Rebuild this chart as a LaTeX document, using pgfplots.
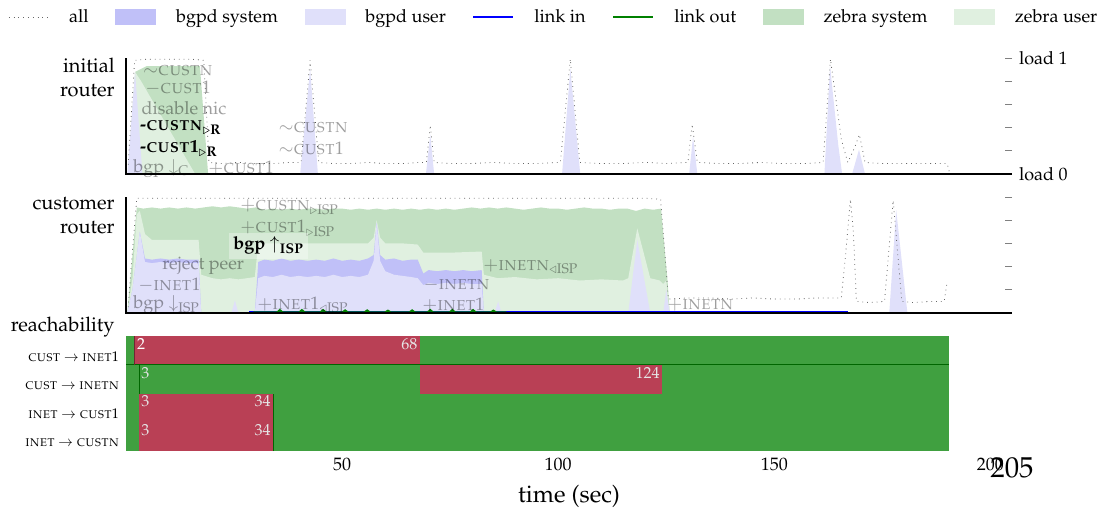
\documentclass[border=0pt]{standalone}
\usepackage[T1]{fontenc}
\usepackage{mathpazo}
\usepackage{amsmath}
\usepackage{pgfplots}
\pgfplotsset{compat=1.18}
\definecolor{bgpdsys}{RGB}{192,192,248}
\definecolor{bgpdusr}{RGB}{224,224,250}
\definecolor{zebsys}{RGB}{194,224,194}
\definecolor{zebusr}{RGB}{224,240,224}
\definecolor{reachred}{RGB}{185,64,85}
\definecolor{reachgreen}{RGB}{64,160,64}
\pgfplotsset{
 panel/.style={scale only axis, width=443pt, height=58pt, xmin=0, xmax=205, ymin=0, ymax=1,
   axis line style={draw=none}, xtick=\empty, ytick={0,0.2,0.4,0.6,0.8,1}, ytick pos=right,
   tick align=inside, major tick length=3.5pt, ytick style={black!50, thin}, clip=false,
   yticklabel style={font=\small},
   after end axis/.code={\draw[line width=1pt] (rel axis cs:0,1) -- (rel axis cs:0,0) -- (rel axis cs:1,0);}},
}
\tikzset{ann/.style={font=\small, text=black, text opacity=0.38, anchor=west, inner sep=0pt},
         bann/.style={font=\small, text=black, anchor=west, inner sep=0pt}}
\begin{document}
\begin{tikzpicture}
\path[use as bounding box] (0,0) rectangle (552pt,-257.5pt);
% ---------------- initial router ----------------
\begin{axis}[panel, at={(63pt,-87pt)}, anchor=south west,
  yticklabels={load 0,,,,,load 1},
  legend columns=7,
  legend style={at={(axis description cs:-0.1332,1.353)}, anchor=west, draw=none, fill=none,
    inner sep=0pt, font=\small, legend cell align=left,
    /tikz/every odd column/.append style={column sep=8pt},
    /tikz/every even column/.append style={column sep=11.3pt}}]
\addlegendimage{legend image code/.code={\draw[black!60,dotted] (0pt,0pt) -- (20pt,0pt);}}
\addlegendentry{all}
\addlegendimage{legend image code/.code={\fill[bgpdsys] (0pt,-3.75pt) rectangle (20pt,3.75pt);}}
\addlegendentry{bgpd system}
\addlegendimage{legend image code/.code={\fill[bgpdusr] (0pt,-3.75pt) rectangle (20pt,3.75pt);}}
\addlegendentry{bgpd user}
\addlegendimage{legend image code/.code={\draw[blue,line width=1pt] (0pt,0pt) -- (20pt,0pt);}}
\addlegendentry{link in}
\addlegendimage{legend image code/.code={\draw[green!50!black,line width=1pt] (0pt,0pt) -- (20pt,0pt);}}
\addlegendentry{link out}
\addlegendimage{legend image code/.code={\fill[zebsys] (0pt,-3.75pt) rectangle (20pt,3.75pt);}}
\addlegendentry{zebra system}
\addlegendimage{legend image code/.code={\fill[zebusr] (0pt,-3.75pt) rectangle (20pt,3.75pt);}}
\addlegendentry{zebra user}
% zebra system (cumulative top)
\addplot[fill=zebsys, draw=none] coordinates {(0.5,0) (2.1,0.88) (4.8,0.93) (17.1,0.93) (19,0)} \closedcycle;
% zebra user (cumulative)
\addplot[fill=zebusr, draw=none] coordinates {(0.5,0) (2.1,0.88) (3.5,0.8) (16,0) (19,0)} \closedcycle;
% bgpd user
\addplot[fill=bgpdusr, draw=none] coordinates {(0.3,0) (2.1,0.88) (3.8,0) (40.3,0) (42.6,0.91) (44.4,0)
 (69.4,0) (70.4,0.34) (71.3,0) (100.9,0) (102.8,0.91) (105.1,0) (130.3,0) (131.2,0.32) (132.2,0)
 (161.6,0) (162.9,0.93) (164.8,0.25) (165.7,0) (168,0) (169.6,0.21) (171,0)} \closedcycle;
% all
\addplot[black!60, dotted, thin] coordinates {(0.5,0.08) (1.2,0.5) (2,0.98) (5,0.99) (10,0.99) (15,0.99) (18,0.98)
 (19.2,0.1) (22,0.09) (26,0.1) (30,0.09) (34,0.09) (38,0.1) (40.5,0.1) (42.6,0.98) (44.6,0.1) (48,0.09)
 (52,0.09) (56,0.1) (60,0.09) (64,0.09) (68,0.1) (69.5,0.1) (70.4,0.42) (71.3,0.1) (75,0.09) (80,0.09)
 (85,0.1) (90,0.09) (95,0.09) (100.5,0.1) (102.8,0.99) (105,0.1) (110,0.09) (115,0.09) (120,0.1)
 (125,0.09) (130,0.1) (131,0.43) (132.2,0.1) (137,0.09) (142,0.09) (147,0.1) (152,0.09) (157,0.09)
 (161.3,0.1) (163,0.99) (165.5,0.3) (167,0.1) (168.5,0.22) (169.7,0.34) (171,0.1) (175,0.09)
 (180,0.09) (185,0.09) (190,0.09) (190.5,0.02)};
\node[ann] at (axis cs:3.9,0.89) {$\sim$\textsc{custn}};
\node[ann] at (axis cs:4.4,0.74) {$-$\textsc{cust}1};
\node[ann] at (axis cs:3.5,0.57) {disable nic};
\node[bann] at (axis cs:3.2,0.40) {\textbf{-\textsc{custn}}$_{\triangleright\mathbf{R}}$};
\node[bann] at (axis cs:3.2,0.22) {\textbf{-\textsc{cust}1}$_{\triangleright\mathbf{R}}$};
\node[ann] at (axis cs:1.6,0.05) {bgp $\downarrow_{\mathrm{C}}$};
\node[ann] at (axis cs:19,0.05) {$+$\textsc{cust}1};
\node[ann] at (axis cs:35.2,0.40) {$\sim$\textsc{custn}};
\node[ann] at (axis cs:35.2,0.22) {$\sim$\textsc{cust}1};
\node[anchor=north east, xshift=-5.5pt, align=right, inner sep=0pt] at (rel axis cs:0,1) {initial\\router};
\end{axis}
% ---------------- customer router ----------------
\begin{axis}[panel, at={(63pt,-156.5pt)}, anchor=south west, yticklabels={,,,,,}]
\addplot[fill=zebsys, draw=none] coordinates {(0.3,0) (1.5,0.5) (2.5,0.91) (4,0.9) (6,0.91) (8,0.9) (10,0.91)
 (12,0.9) (14,0.91) (16,0.9) (18,0.91) (20,0.92) (22,0.91) (24,0.92) (26,0.91) (28,0.9) (30,0.91) (32,0.89)
 (34,0.9) (36,0.89) (38,0.9) (40,0.89) (42,0.9) (44,0.9) (46,0.89) (48,0.9) (50,0.9) (52,0.89) (54,0.9)
 (56,0.89) (58,0.9) (60,0.89) (62,0.9) (64,0.89) (66,0.9) (68,0.89) (70,0.9) (72,0.89) (74,0.9) (76,0.89)
 (78,0.9) (80,0.91) (82,0.9) (84,0.91) (86,0.9) (88,0.91) (90,0.9) (92,0.89) (94,0.9) (96,0.91) (98,0.9)
 (100,0.9) (102,0.89) (104,0.9) (106,0.91) (108,0.9) (110,0.9) (112,0.89) (114,0.9) (116,0.9) (118,0.88)
 (120,0.9) (122,0.89) (123.8,0.9) (125.3,0.28) (125.8,0)} \closedcycle;
\addplot[fill=zebusr, draw=none] coordinates {(0.3,0) (1.5,0.3) (2.5,0.85) (3.2,0.88) (4.4,0.68) (6,0.63)
 (10,0.63) (14,0.63) (16.8,0.63) (17.4,0.33) (20,0.3) (22,0.29) (24,0.3) (26,0.29) (28,0.3) (29.8,0.31)
 (30.6,0.6) (34,0.6) (40,0.6) (46,0.6) (52,0.6) (56,0.6) (57.3,0.65) (58,0.8) (58.8,0.65) (60,0.6) (64,0.6)
 (67.5,0.59) (68.8,0.52) (75,0.52) (82.3,0.53) (82.8,0.33) (86,0.3) (90,0.31) (95,0.29) (100,0.3)
 (105,0.28) (110,0.29) (115,0.28) (116.2,0.3) (118.3,0.73) (121.3,0.3) (123.5,0.28) (124.3,0.25)
 (125,0.28) (125.8,0)} \closedcycle;
\addplot[fill=bgpdsys, draw=none] coordinates {(0.3,0) (1.5,0.2) (3.2,0.7) (4.4,0.47) (6,0.46) (8,0.47)
 (10,0.46) (12,0.47) (14,0.46) (16.8,0.46) (17.4,0) (29.8,0) (30.6,0.44) (32,0.46) (34,0.45) (36,0.47)
 (38,0.45) (40,0.46) (42,0.45) (44,0.46) (46,0.45) (48,0.47) (50,0.45) (52,0.46) (54,0.45) (56,0.47)
 (57.3,0.5) (58,0.78) (58.8,0.5) (60,0.46) (62,0.47) (64,0.45) (66,0.46) (67.5,0.46) (68.8,0.34) (70,0.37)
 (72,0.36) (74,0.37) (76,0.36) (78,0.37) (80,0.36) (82.3,0.37) (82.8,0)} \closedcycle;
\addplot[fill=bgpdusr, draw=none] coordinates {(0.3,0) (1.5,0.2) (3.2,0.7) (4.4,0.44) (6,0.43) (8,0.44)
 (10,0.43) (12,0.44) (14,0.43) (16.8,0.43) (17.4,0) (24.4,0) (25.2,0.11) (26,0) (29.8,0) (30.6,0.3) (32,0.32)
 (34,0.31) (36,0.33) (38,0.31) (40,0.32) (42,0.31) (44,0.32) (46,0.31) (48,0.33) (50,0.31) (52,0.32)
 (54,0.31) (56,0.33) (57.3,0.45) (58,0.78) (58.8,0.45) (60,0.36) (62,0.33) (64,0.32) (66,0.31) (67.5,0.3)
 (68.8,0.24) (70,0.26) (72,0.25) (74,0.26) (76,0.25) (78,0.26) (80,0.25) (82.3,0.25) (82.8,0) (85.3,0)
 (86.1,0.1) (86.9,0) (116.2,0) (118.3,0.63) (121.3,0) (124.3,0) (125,0.2) (125.8,0) (176.6,0) (178.2,0.89)
 (180.8,0)} \closedcycle;
\addplot[blue, line width=1pt] coordinates {(28.5,0.012) (167,0.012)};
\addplot[green!50!black, line width=1pt] coordinates {(29.5,0.006) (35,0.006) (35.6,0.025) (36.2,0.006)
 (40.1,0.006) (40.7,0.025) (41.3,0.006) (45,0.006) (45.6,0.025) (46.2,0.006) (50.1,0.006) (50.7,0.022)
 (51.3,0.006) (55.2,0.006) (55.8,0.022) (56.4,0.006) (60,0.006) (60.6,0.02) (61.2,0.006) (65.6,0.006)
 (66.2,0.022) (66.8,0.006) (69.8,0.006) (70.4,0.025) (71,0.006) (74.9,0.006) (75.5,0.025) (76.1,0.006)
 (79.7,0.006) (80.3,0.025) (80.9,0.006) (84.4,0.006) (85,0.02) (85.6,0.006) (88,0.006)};
\addplot[black!60, dotted, thin] coordinates {(0.5,0.05) (1.2,0.4) (2.5,0.99) (10,0.99) (20,0.99) (30,0.99)
 (40,0.99) (50,0.99) (60,0.99) (70,0.99) (80,0.99) (90,0.99) (100,0.99) (110,0.99) (120,0.99) (123.7,0.98)
 (125.5,0.12) (130,0.13) (135,0.13) (140,0.12) (145,0.13) (150,0.12) (155,0.12) (160,0.13) (165.5,0.13)
 (166.5,0.5) (167.6,0.98) (168.3,0.7) (169,0.1) (172,0.09) (175.5,0.1) (177.5,0.97) (179.5,0.1) (182,0.09)
 (186,0.1) (189.3,0.1) (190,0.27)};
\node[ann] at (axis cs:26.4,0.91) {$+$\textsc{custn}$_{\triangleright\mathrm{ISP}}$};
\node[ann] at (axis cs:26.4,0.73) {$+$\textsc{cust}1$_{\triangleright\mathrm{ISP}}$};
\node[bann, fill=white, fill opacity=0.35, text opacity=1, inner sep=2pt] at (axis cs:23.8,0.58) {\textbf{bgp} $\uparrow_{\mathbf{ISP}}$};
\node[ann] at (axis cs:8.3,0.41) {reject peer};
\node[ann] at (axis cs:2.8,0.24) {$-$\textsc{inet}1};
\node[ann] at (axis cs:1.6,0.07) {bgp $\downarrow_{\mathrm{ISP}}$};
\node[ann] at (axis cs:30.3,0.07) {$+$\textsc{inet}1$_{\triangleleft\mathrm{ISP}}$};
\node[ann] at (axis cs:68.8,0.24) {$-$\textsc{inetn}};
\node[ann] at (axis cs:68.5,0.07) {$+$\textsc{inet}1};
\node[ann] at (axis cs:82.6,0.40) {$+$\textsc{inetn}$_{\triangleleft\mathrm{ISP}}$};
\node[ann] at (axis cs:125.2,0.07) {$+$\textsc{inetn}};
\node[anchor=north east, xshift=-5.5pt, align=right, inner sep=0pt] at (rel axis cs:0,1) {customer\\router};
\end{axis}
% ---------------- reachability ----------------
\begin{axis}[scale only axis, width=443pt, height=57.5pt, at={(63pt,-225.5pt)}, anchor=south west,
  xmin=0, xmax=205, ymin=0, ymax=4, axis line style={draw=none}, clip=false,
  xtick={50,100,150,200}, xticklabel style={font=\small}, x tick style={white, thin},
  tick align=inside, major tick length=4pt, xtick pos=bottom,
  ytick={0.28,1.28,2.28,3.28}, y tick style={draw=none},
  yticklabels={{\textsc{inet} $\rightarrow$ \textsc{custn}},{\textsc{inet} $\rightarrow$ \textsc{cust}1},{\textsc{cust} $\rightarrow$ \textsc{inetn}},{\textsc{cust} $\rightarrow$ \textsc{inet}1}},
  yticklabel style={font=\scriptsize},
  xlabel={time (sec)}, xlabel style={font=\large}]
% row 1 (top): CUST -> INET1
\addplot[fill=reachgreen, draw=none] coordinates {(0,3) (190.5,3) (190.5,4) (0,4)};
\addplot[fill=reachred, draw=none] coordinates {(2,3) (68,3) (68,4) (2,4)};
% row 2: CUST -> INETN
\addplot[fill=reachgreen, draw=none] coordinates {(0,2) (190.5,2) (190.5,3) (0,3)};
\addplot[fill=reachred, draw=none] coordinates {(68,2) (124,2) (124,3) (68,3)};
% row 3: INET -> CUST1
\addplot[fill=reachgreen, draw=none] coordinates {(0,1) (190.5,1) (190.5,2) (0,2)};
\addplot[fill=reachred, draw=none] coordinates {(3,1) (34,1) (34,2) (3,2)};
% row 4: INET -> CUSTN
\addplot[fill=reachgreen, draw=none] coordinates {(0,0) (190.5,0) (190.5,1) (0,1)};
\addplot[fill=reachred, draw=none] coordinates {(3,0) (34,0) (34,1) (3,1)};
\addplot[green!40!black, thin] coordinates {(0,3) (190.5,3)};
\addplot[reachred!60!black, thin] coordinates {(2,3) (2,4)};
\addplot[green!40!black, thin] coordinates {(3,2) (3,3)};
\addplot[green!40!black, thin] coordinates {(34,0) (34,2)};
\node[anchor=north west, inner sep=1pt, text=white, font=\footnotesize] at (axis cs:2,4) {2};
\node[anchor=north east, inner sep=1pt, text=white!90!black, font=\footnotesize] at (axis cs:68,4) {68};
\node[anchor=north west, inner sep=1pt, text=white!90!black, font=\footnotesize] at (axis cs:3,3) {3};
\node[anchor=north east, inner sep=1pt, text=white!90!black, font=\footnotesize] at (axis cs:124,3) {124};
\node[anchor=north west, inner sep=1pt, text=white!90!black, font=\footnotesize] at (axis cs:3,2) {3};
\node[anchor=north east, inner sep=1pt, text=white!90!black, font=\footnotesize] at (axis cs:34,2) {34};
\node[anchor=north west, inner sep=1pt, text=white!90!black, font=\footnotesize] at (axis cs:3,1) {3};
\node[anchor=north east, inner sep=1pt, text=white!90!black, font=\footnotesize] at (axis cs:34,1) {34};
\node[anchor=north, font=\Large, inner sep=0pt, yshift=-3pt] at (rel axis cs:1,0) {205};
\node[anchor=base east, xshift=-5.5pt, yshift=2.5pt, inner sep=0pt] at (rel axis cs:0,1) {reachability};
\end{axis}
\end{tikzpicture}
\end{document}
